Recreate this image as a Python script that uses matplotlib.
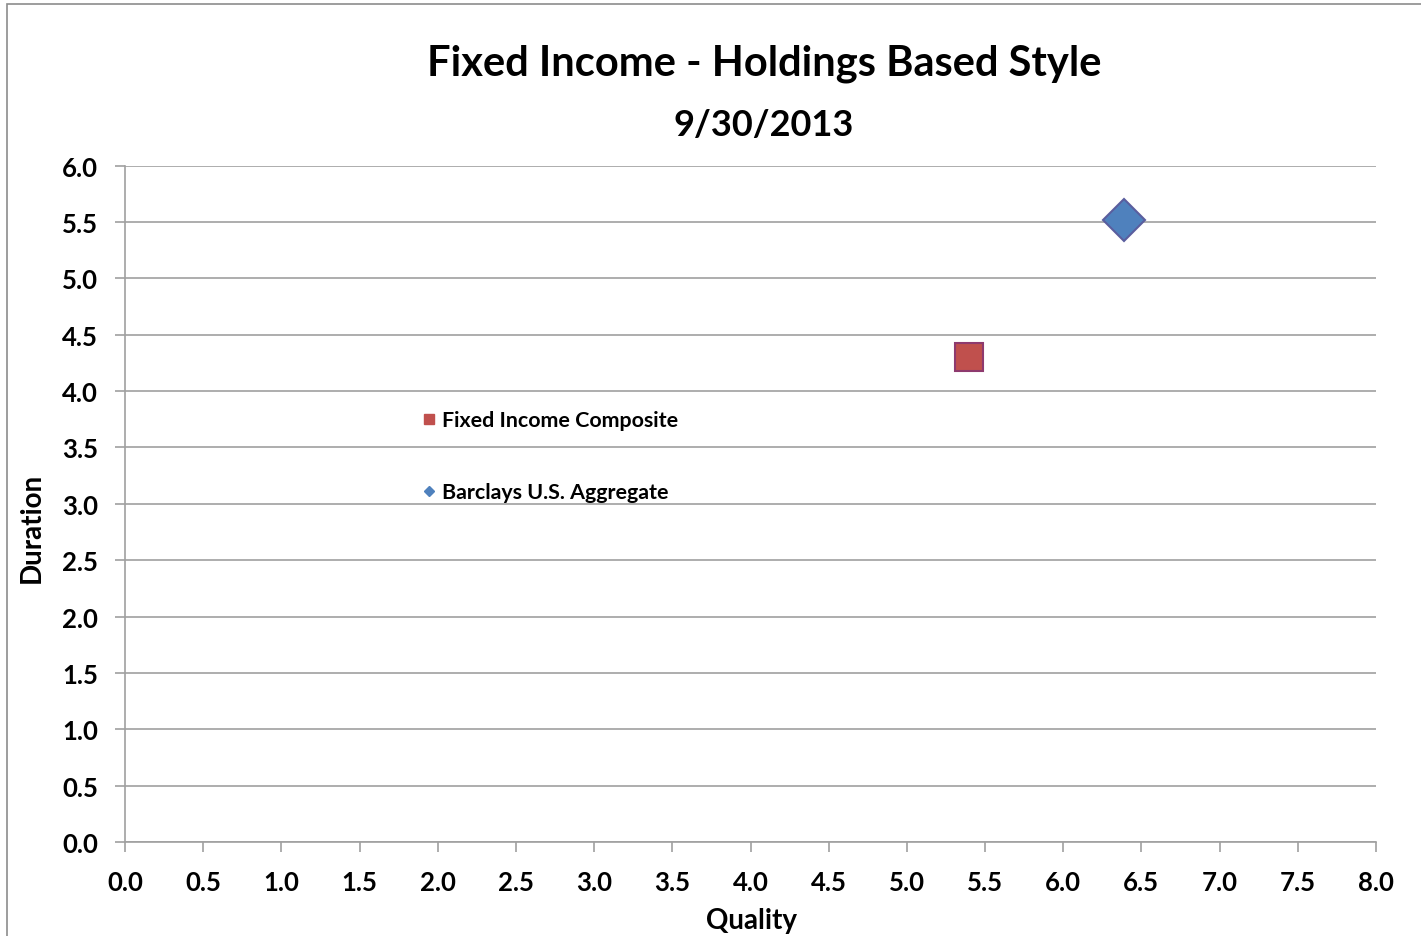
import matplotlib
matplotlib.use("Agg")
from matplotlib import pyplot as plt
from matplotlib.lines import Line2D
from matplotlib.patches import Rectangle
import numpy as np

plt.rcParams['font.family'] = ['Lato', 'DejaVu Sans']
plt.rcParams['font.weight'] = 'bold'

# style box points (quality, duration)
series = ["Fixed Income Composite", "Barclays U.S. Aggregate"]
quality = [5.40, 6.39]
duration = [4.30, 5.52]
markers = ['s', 'D']
faces = ['#C0504D', '#4F81BD']
edges = ['#8E3A6E', '#5A5E9E']
sizes = [20, 21]

xticks = np.arange(0, 8.01, 0.5)
yticks = np.arange(0, 6.01, 0.5)

fig = plt.figure(figsize=(14.21, 9.37), dpi=100)
ax = fig.add_axes([0.0880, 0.1003, 0.8803, 0.7218])

for q, d, m, fc, ec, s in zip(quality, duration, markers, faces, edges, sizes):
    ax.plot(q, d, linestyle='none', marker=m, markersize=s,
            markerfacecolor=fc, markeredgecolor=ec, markeredgewidth=1.5,
            zorder=3)

ax.set_xlim(0, 8)
ax.set_ylim(0, 6)
ax.set_xticks(xticks)
ax.set_yticks(yticks)
ax.set_xticklabels([f"{v:.1f}" for v in xticks])
ax.set_yticklabels([f"{v:.1f}" for v in yticks])
ax.tick_params(axis='both', length=7, width=1.2, color='#A0A0A0',
               labelsize=18.5)
ax.tick_params(axis='y', pad=12.5)
ax.tick_params(axis='x', pad=13)
ax.yaxis.grid(True, color='#A0A0A0', linewidth=1.2)
ax.set_axisbelow(True)
for side in ['top', 'right']:
    ax.spines[side].set_visible(False)
for side in ['left', 'bottom']:
    ax.spines[side].set_color('#A0A0A0')
    ax.spines[side].set_linewidth(1.2)

ax.set_xlabel("Quality", fontsize=20, fontweight='bold')
ax.xaxis.set_label_coords(0.5004, -0.115)
ax.xaxis.label.set_va('center')
ax.set_ylabel("Duration", fontsize=20, fontweight='bold')
ax.yaxis.set_label_coords(-0.0743, 0.466)
ax.yaxis.label.set_va('center')

fig.text(0.5377, 0.932, "Fixed Income - Holdings Based Style",
         ha='center', va='center', fontsize=30, fontweight='bold')
fig.text(0.5377, 0.866, "9/30/2013",
         ha='center', va='center', fontsize=26, fontweight='bold')

handles = [Line2D([], [], linestyle='none', marker=m, markersize=ms,
                  markerfacecolor=fc, markeredgecolor=fc)
           for m, fc, ms in zip(markers, faces, [7.5, 5.5])]
leg = ax.legend(handles, series, loc='upper left',
                bbox_to_anchor=(0.2206, 0.667), frameon=False,
                fontsize=15.4, labelspacing=2.43, handlelength=0.8,
                handletextpad=0.2)

# chart border
fig.add_artist(Rectangle((7 / 1421, -0.1), 1.2, 0.1 + (937 - 5) / 937,
                         transform=fig.transFigure, fill=False,
                         edgecolor='#8C8C8C', linewidth=1.2))

fig.savefig("out.png", dpi=100, facecolor='white')
